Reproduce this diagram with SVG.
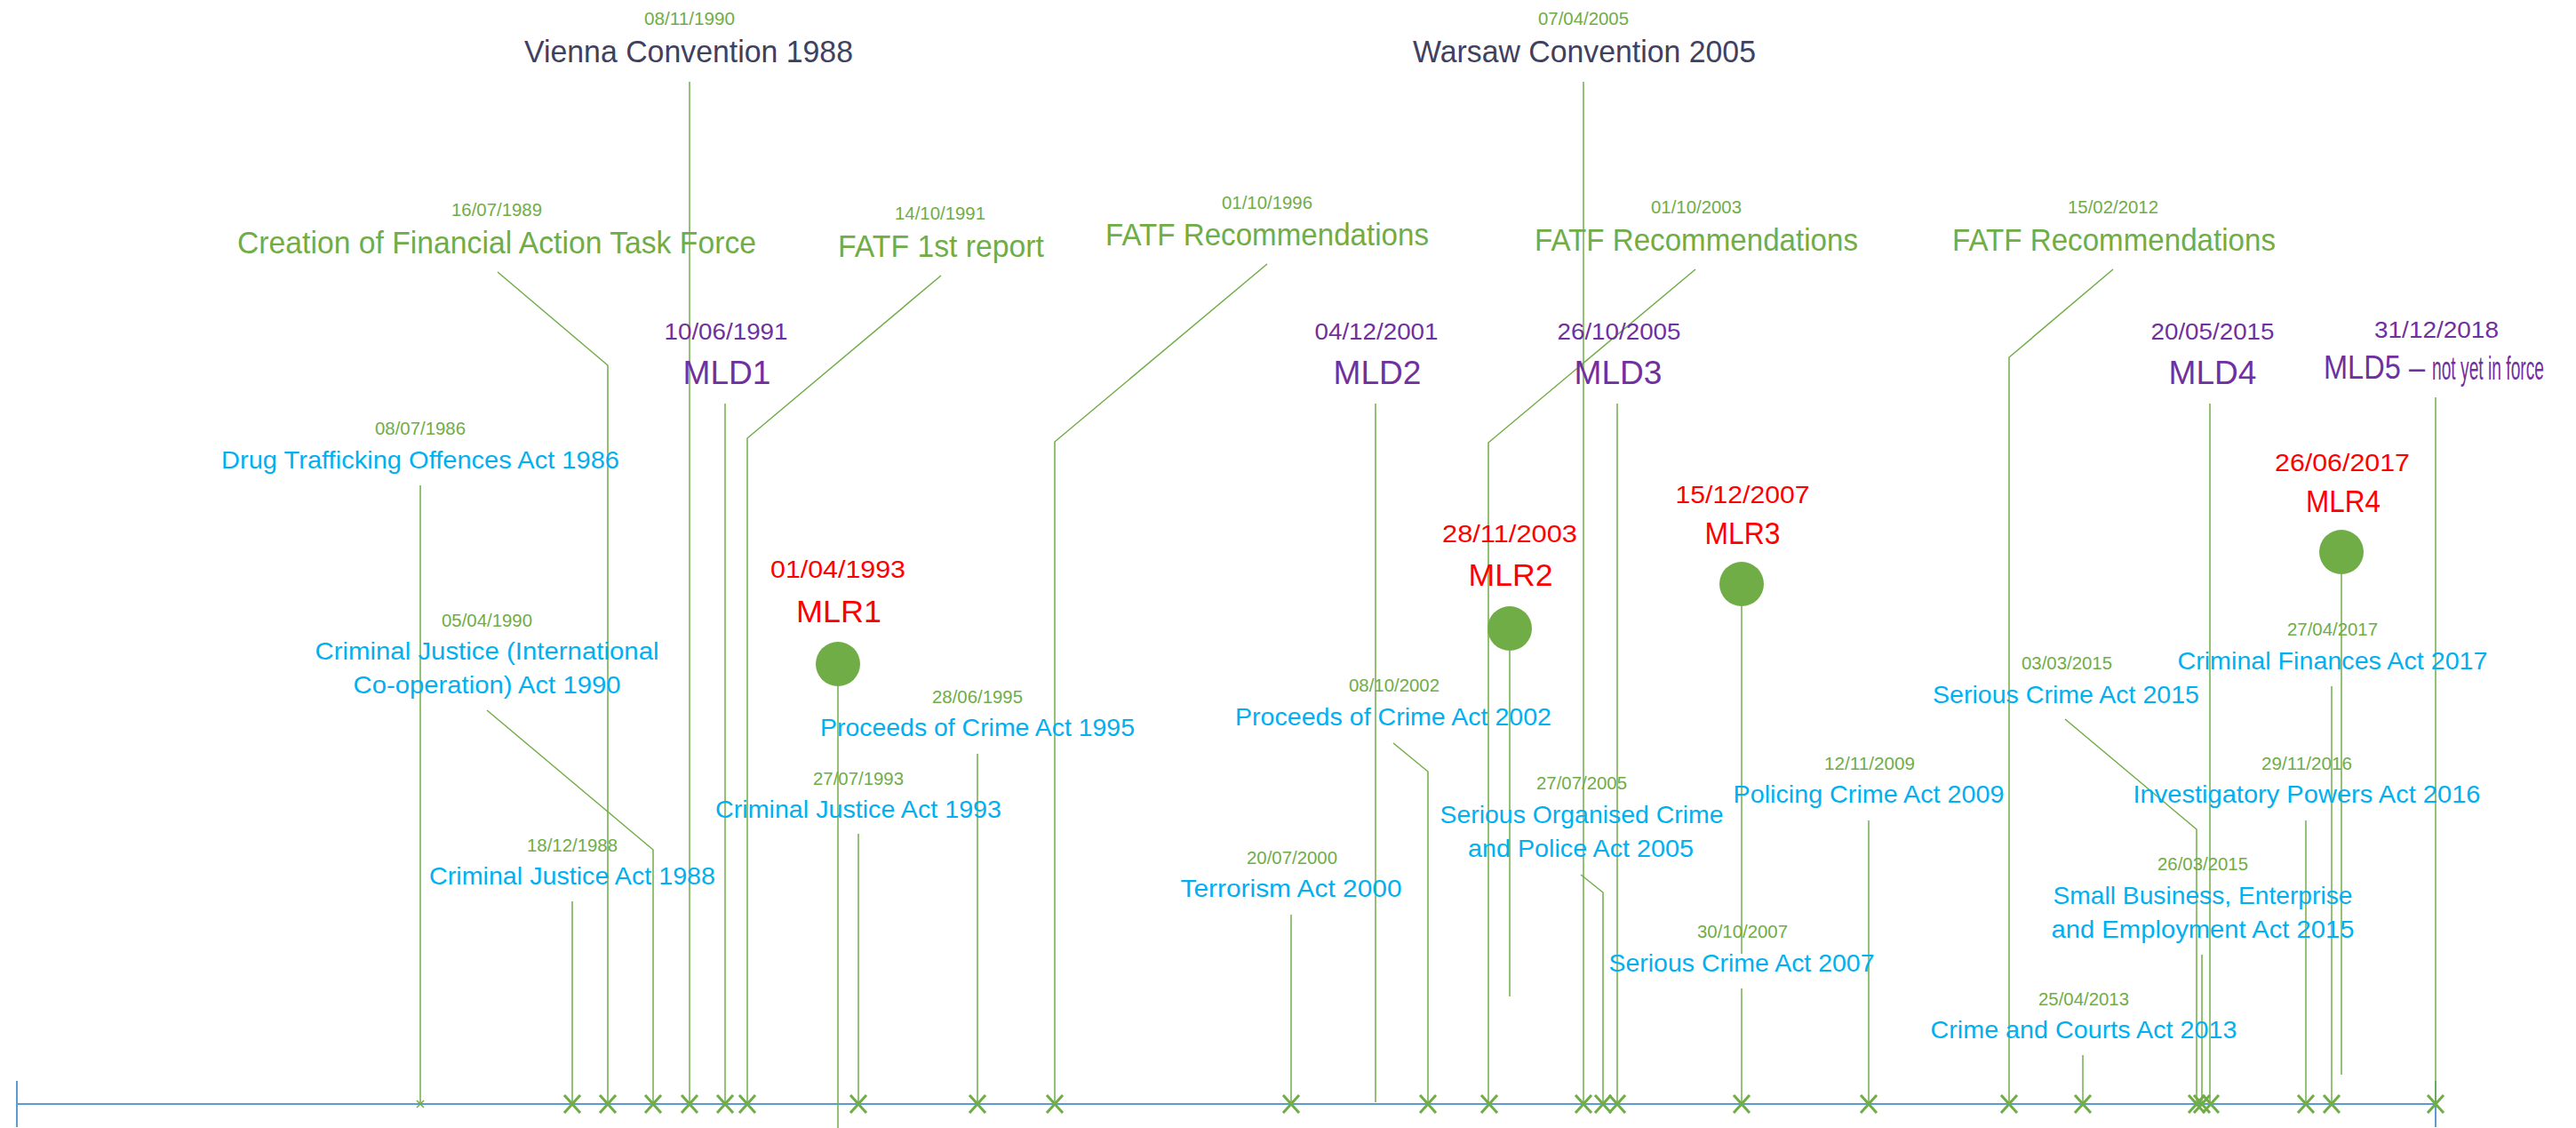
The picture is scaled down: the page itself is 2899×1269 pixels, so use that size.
<svg xmlns="http://www.w3.org/2000/svg" xmlns:xlink="http://www.w3.org/1999/xlink" width="2899" height="1269" viewBox="0 0 2899 1269">
<style>
text{font-family:"Liberation Sans",Arial,sans-serif;text-anchor:middle}
.d{fill:#70AD47;font-size:20px}
.t{fill:#00B0F0;font-size:28px}
.pd{fill:#7030A0;font-size:26px}
.mld{fill:#7030A0;font-size:37px}
.rd{fill:#FF0000;font-size:28px}
.mlr{fill:#FF0000;font-size:35px}
.cv{fill:#404060;font-size:35px}
.ft{fill:#70AD47;font-size:35px}
.c{fill:none;stroke:#70AD47;stroke-width:1.5}
.x{fill:none;stroke:#70AD47;stroke-width:3}
.dot{fill:#70AD47}
.axis{fill:none;stroke:#5B9BD5;stroke-width:2}
</style>
<defs>
<path id="xm" d="M-9,-10L9,10M-9,10L9,-10"/>
</defs>
<rect width="2899" height="1269" fill="#fff"/>
<g id="connectors">
<path class="axis" d="M19,1242H2741M19,1216V1268M2741,1216V1268"/>
<path class="c" d="M473,546V1242"/>
<path class="c" stroke-width="1" d="M469,1238L477,1246M469,1246L477,1238"/>
<path class="c" d="M644,1014V1242"/>
<path class="c" d="M560,306L684,411V1242"/>
<path class="c" d="M548,799L735,956V1242"/>
<path class="c" d="M776,92V1242"/>
<path class="c" d="M816,454V1242"/>
<path class="c" d="M1059,310L841,493V1242"/>
<path class="c" d="M943,772V1269"/>
<path class="c" d="M966,938V1242"/>
<path class="c" d="M1100,848V1242"/>
<path class="c" d="M1426,297L1187,497V1242"/>
<path class="c" d="M1453,1029V1242"/>
<path class="c" d="M1548,454V1240"/>
<path class="c" d="M1568,836L1607,868V1242"/>
<path class="c" d="M1908,303L1675,498V1242"/>
<path class="c" d="M1699,732V1121"/>
<path class="c" d="M1782,92V1242"/>
<path class="c" d="M1779,984L1804,1004V1242"/>
<path class="c" d="M1820,454V1242"/>
<path class="c" d="M1960,1112V1242"/>
<path class="c" d="M1960,682V1073"/>
<path class="c" d="M2103,923V1242"/>
<path class="c" d="M2378,303L2261,402V1242"/>
<path class="c" d="M2344,1187V1242"/>
<path class="c" d="M2324,809L2472,933V1242"/>
<path class="c" d="M2478,1074V1242"/>
<path class="c" d="M2487,454V1242"/>
<path class="c" d="M2595,923V1242"/>
<path class="c" d="M2624,772V1242"/>
<path class="c" d="M2635,646V1209"/>
<path class="c" d="M2741,447V1242"/>
<g class="x">
<use xlink:href="#xm" x="644" y="1242"/>
<use xlink:href="#xm" x="684" y="1242"/>
<use xlink:href="#xm" x="735" y="1242"/>
<use xlink:href="#xm" x="776" y="1242"/>
<use xlink:href="#xm" x="816" y="1242"/>
<use xlink:href="#xm" x="841" y="1242"/>
<use xlink:href="#xm" x="966" y="1242"/>
<use xlink:href="#xm" x="1100" y="1242"/>
<use xlink:href="#xm" x="1187" y="1242"/>
<use xlink:href="#xm" x="1453" y="1242"/>
<use xlink:href="#xm" x="1607" y="1242"/>
<use xlink:href="#xm" x="1676" y="1242"/>
<use xlink:href="#xm" x="1782" y="1242"/>
<use xlink:href="#xm" x="1804" y="1242"/>
<use xlink:href="#xm" x="1820" y="1242"/>
<use xlink:href="#xm" x="1960" y="1242"/>
<use xlink:href="#xm" x="2103" y="1242"/>
<use xlink:href="#xm" x="2261" y="1242"/>
<use xlink:href="#xm" x="2344" y="1242"/>
<use xlink:href="#xm" x="2472" y="1242"/>
<use xlink:href="#xm" x="2478" y="1242"/>
<use xlink:href="#xm" x="2488" y="1242"/>
<use xlink:href="#xm" x="2595" y="1242"/>
<use xlink:href="#xm" x="2624" y="1242"/>
<use xlink:href="#xm" x="2741" y="1242"/>
</g>
</g>
<g id="drug1986"><text class="d" x="473" y="489" textLength="102" lengthAdjust="spacingAndGlyphs">08/07/1986</text><text class="t" x="473" y="527" textLength="448" lengthAdjust="spacingAndGlyphs">Drug Trafficking Offences Act 1986</text></g>
<g id="cja1988"><text class="d" x="644" y="958" textLength="102" lengthAdjust="spacingAndGlyphs">18/12/1988</text><text class="t" x="644" y="995" textLength="322" lengthAdjust="spacingAndGlyphs">Criminal Justice Act 1988</text></g>
<g id="fatf1989"><text class="d" x="559" y="243" textLength="102" lengthAdjust="spacingAndGlyphs">16/07/1989</text><text class="ft" x="559" y="285" textLength="584" lengthAdjust="spacingAndGlyphs">Creation of Financial Action Task Force</text></g>
<g id="cjico1990"><text class="d" x="548" y="705" textLength="102" lengthAdjust="spacingAndGlyphs">05/04/1990</text><text class="t" x="548" y="742" textLength="387" lengthAdjust="spacingAndGlyphs">Criminal Justice (International</text><text class="t" x="548" y="780" textLength="301" lengthAdjust="spacingAndGlyphs">Co-operation) Act 1990</text></g>
<g id="vienna1988"><text class="d" x="776" y="28" textLength="102" lengthAdjust="spacingAndGlyphs">08/11/1990</text><text class="cv" x="775" y="70" textLength="370" lengthAdjust="spacingAndGlyphs">Vienna Convention 1988</text></g>
<g id="mld1"><text class="pd" x="817" y="382" textLength="139" lengthAdjust="spacingAndGlyphs">10/06/1991</text><text class="mld" x="818" y="432" textLength="99" lengthAdjust="spacingAndGlyphs">MLD1</text></g>
<g id="fatf1991"><text class="d" x="1058" y="247" textLength="102" lengthAdjust="spacingAndGlyphs">14/10/1991</text><text class="ft" x="1059" y="289" textLength="232" lengthAdjust="spacingAndGlyphs">FATF 1st report</text></g>
<g id="mlr1"><text class="rd" x="943" y="650" textLength="152" lengthAdjust="spacingAndGlyphs">01/04/1993</text><text class="mlr" x="944" y="700" textLength="96" lengthAdjust="spacingAndGlyphs">MLR1</text><circle class="dot" cx="943" cy="747" r="25"/></g>
<g id="cja1993"><text class="d" x="966" y="883" textLength="102" lengthAdjust="spacingAndGlyphs">27/07/1993</text><text class="t" x="966" y="920" textLength="322" lengthAdjust="spacingAndGlyphs">Criminal Justice Act 1993</text></g>
<g id="poca1995"><text class="d" x="1100" y="791" textLength="102" lengthAdjust="spacingAndGlyphs">28/06/1995</text><text class="t" x="1100" y="828" textLength="354" lengthAdjust="spacingAndGlyphs">Proceeds of Crime Act 1995</text></g>
<g id="fatf1996"><text class="d" x="1426" y="235" textLength="102" lengthAdjust="spacingAndGlyphs">01/10/1996</text><text class="ft" x="1426" y="276" textLength="364" lengthAdjust="spacingAndGlyphs">FATF Recommendations</text></g>
<g id="terr2000"><text class="d" x="1454" y="972" textLength="102" lengthAdjust="spacingAndGlyphs">20/07/2000</text><text class="t" x="1453" y="1009" textLength="249" lengthAdjust="spacingAndGlyphs">Terrorism Act 2000</text></g>
<g id="mld2"><text class="pd" x="1549" y="382" textLength="139" lengthAdjust="spacingAndGlyphs">04/12/2001</text><text class="mld" x="1550" y="432" textLength="99" lengthAdjust="spacingAndGlyphs">MLD2</text></g>
<g id="poca2002"><text class="d" x="1569" y="778" textLength="102" lengthAdjust="spacingAndGlyphs">08/10/2002</text><text class="t" x="1568" y="816" textLength="356" lengthAdjust="spacingAndGlyphs">Proceeds of Crime Act 2002</text></g>
<g id="fatf2003"><text class="d" x="1909" y="240" textLength="102" lengthAdjust="spacingAndGlyphs">01/10/2003</text><text class="ft" x="1909" y="282" textLength="364" lengthAdjust="spacingAndGlyphs">FATF Recommendations</text></g>
<g id="mlr2"><text class="rd" x="1699" y="610" textLength="152" lengthAdjust="spacingAndGlyphs">28/11/2003</text><text class="mlr" x="1700" y="659" textLength="95" lengthAdjust="spacingAndGlyphs">MLR2</text><circle class="dot" cx="1699" cy="707" r="25"/></g>
<g id="warsaw2005"><text class="d" x="1782" y="28" textLength="102" lengthAdjust="spacingAndGlyphs">07/04/2005</text><text class="cv" x="1783" y="70" textLength="386" lengthAdjust="spacingAndGlyphs">Warsaw Convention 2005</text></g>
<g id="socpa2005"><text class="d" x="1780" y="888" textLength="102" lengthAdjust="spacingAndGlyphs">27/07/2005</text><text class="t" x="1780" y="926" textLength="319" lengthAdjust="spacingAndGlyphs">Serious Organised Crime</text><text class="t" x="1779" y="964" textLength="254" lengthAdjust="spacingAndGlyphs">and Police Act 2005</text></g>
<g id="mld3"><text class="pd" x="1822" y="382" textLength="139" lengthAdjust="spacingAndGlyphs">26/10/2005</text><text class="mld" x="1821" y="432" textLength="99" lengthAdjust="spacingAndGlyphs">MLD3</text></g>
<g id="sca2007"><text class="d" x="1961" y="1055" textLength="102" lengthAdjust="spacingAndGlyphs">30/10/2007</text><text class="t" x="1960" y="1093" textLength="299" lengthAdjust="spacingAndGlyphs">Serious Crime Act 2007</text></g>
<g id="mlr3"><text class="rd" x="1961" y="566" textLength="151" lengthAdjust="spacingAndGlyphs">15/12/2007</text><text class="mlr" x="1961" y="612" font-size="32" textLength="85" lengthAdjust="spacingAndGlyphs">MLR3</text><circle class="dot" cx="1960" cy="657" r="25"/></g>
<g id="pca2009"><text class="d" x="2104" y="866" textLength="102" lengthAdjust="spacingAndGlyphs">12/11/2009</text><text class="t" x="2103" y="903" textLength="305" lengthAdjust="spacingAndGlyphs">Policing Crime Act 2009</text></g>
<g id="fatf2012"><text class="d" x="2378" y="240" textLength="102" lengthAdjust="spacingAndGlyphs">15/02/2012</text><text class="ft" x="2379" y="282" textLength="364" lengthAdjust="spacingAndGlyphs">FATF Recommendations</text></g>
<g id="cca2013"><text class="d" x="2345" y="1131" textLength="102" lengthAdjust="spacingAndGlyphs">25/04/2013</text><text class="t" x="2345" y="1168" textLength="345" lengthAdjust="spacingAndGlyphs">Crime and Courts Act 2013</text></g>
<g id="sca2015"><text class="d" x="2326" y="753" textLength="102" lengthAdjust="spacingAndGlyphs">03/03/2015</text><text class="t" x="2325" y="791" textLength="300" lengthAdjust="spacingAndGlyphs">Serious Crime Act 2015</text></g>
<g id="sbee2015"><text class="d" x="2479" y="979" textLength="102" lengthAdjust="spacingAndGlyphs">26/03/2015</text><text class="t" x="2479" y="1017" textLength="337" lengthAdjust="spacingAndGlyphs">Small Business, Enterprise</text><text class="t" x="2479" y="1055" textLength="341" lengthAdjust="spacingAndGlyphs">and Employment Act 2015</text></g>
<g id="mld4"><text class="pd" x="2490" y="382" textLength="139" lengthAdjust="spacingAndGlyphs">20/05/2015</text><text class="mld" x="2490" y="432" textLength="99" lengthAdjust="spacingAndGlyphs">MLD4</text></g>
<g id="ipa2016"><text class="d" x="2596" y="866" textLength="102" lengthAdjust="spacingAndGlyphs">29/11/2016</text><text class="t" x="2596" y="903" textLength="391" lengthAdjust="spacingAndGlyphs">Investigatory Powers Act 2016</text></g>
<g id="cfa2017"><text class="d" x="2625" y="715" textLength="102" lengthAdjust="spacingAndGlyphs">27/04/2017</text><text class="t" x="2625" y="753" textLength="349" lengthAdjust="spacingAndGlyphs">Criminal Finances Act 2017</text></g>
<g id="mlr4"><text class="rd" x="2636" y="530" textLength="152" lengthAdjust="spacingAndGlyphs">26/06/2017</text><text class="mlr" x="2637" y="576" font-size="32" textLength="84" lengthAdjust="spacingAndGlyphs">MLR4</text><circle class="dot" cx="2635" cy="621" r="25"/></g>
<g id="mld5"><text class="pd" x="2742" y="380" textLength="140" lengthAdjust="spacingAndGlyphs">31/12/2018</text><text class="mld" x="2672" y="426" font-size="34" textLength="114" lengthAdjust="spacingAndGlyphs">MLD5 –</text><text class="mld" x="2737" y="427" font-size="19" style="text-anchor:start" textLength="126" lengthAdjust="spacingAndGlyphs">not yet in force</text></g>
</svg>
